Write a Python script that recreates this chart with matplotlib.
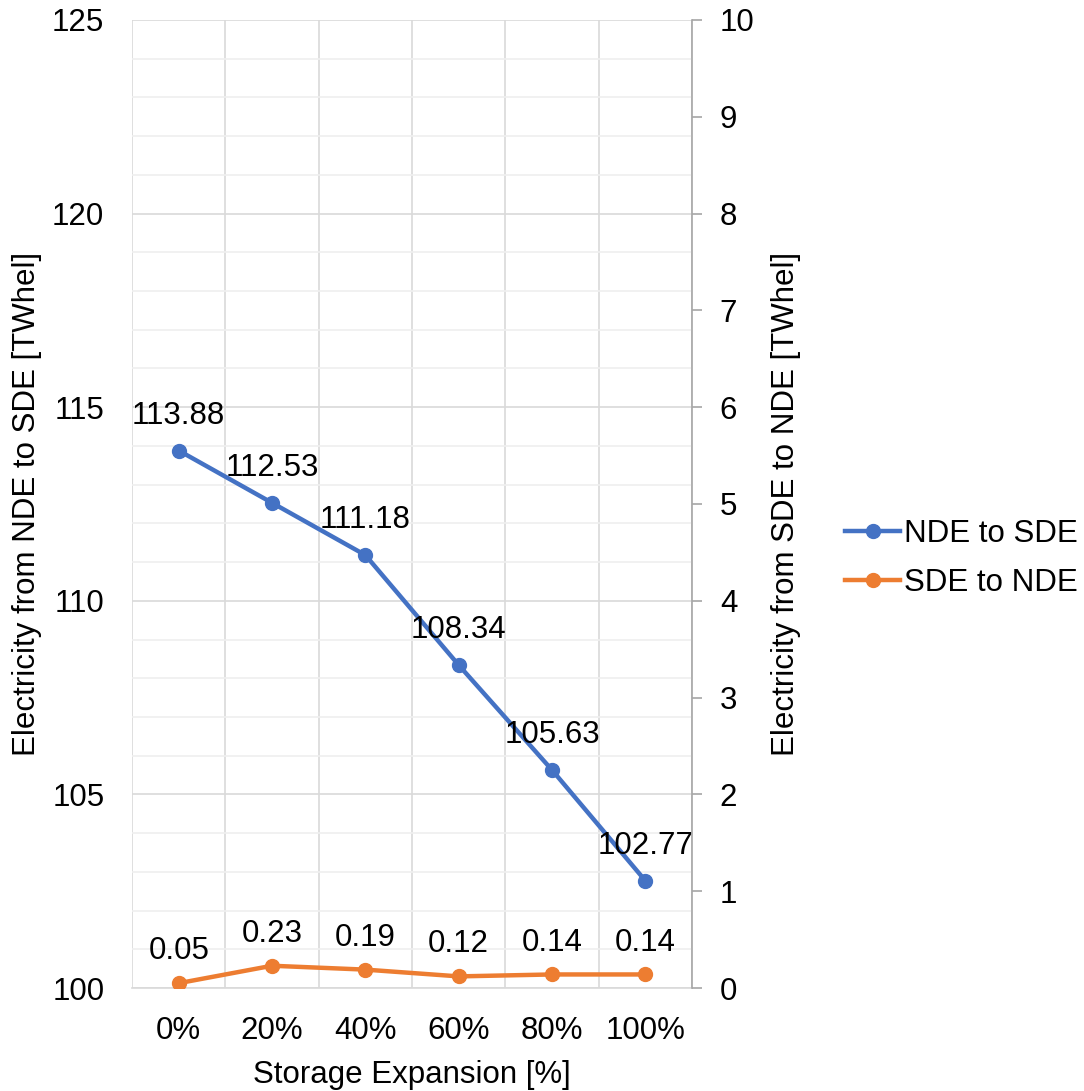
import matplotlib
matplotlib.use("Agg")
import matplotlib.pyplot as plt
from matplotlib.ticker import MultipleLocator, FixedLocator
from matplotlib.lines import Line2D

# Storage expansion scenarios and transferred electricity (TWh_el)
categories = ["0%", "20%", "40%", "60%", "80%", "100%"]
nde_to_sde = [113.88, 112.53, 111.18, 108.34, 105.63, 102.77]
sde_to_nde = [0.05, 0.23, 0.19, 0.12, 0.14, 0.14]

BLUE = "#4472C4"
ORANGE = "#ED7D31"
FS = 22.5

plt.rcParams["font.family"] = ["Liberation Sans", "DejaVu Sans"]

fig = plt.figure(figsize=(10.84, 10.91), dpi=100)
ax = fig.add_axes([0.1218, 0.0944, 0.5166, 0.8873])
ax2 = ax.twinx()

x = list(range(len(categories)))

ax.plot(x, nde_to_sde, color=BLUE, lw=3.2, marker="o", ms=10, zorder=3,
        solid_capstyle="round")
ax2.plot(x, sde_to_nde, color=ORANGE, lw=3.2, marker="o", ms=10, zorder=3,
         solid_capstyle="round")

for xi, v in zip(x, nde_to_sde):
    ax.annotate(f"{v:.2f}", (xi, v), xytext=(0, 25), textcoords="offset points",
                ha="center", va="center", fontsize=FS, zorder=4)
for xi, v in zip(x, sde_to_nde):
    ax2.annotate(f"{v:.2f}", (xi, v), xytext=(0, 23), textcoords="offset points",
                 ha="center", va="center", fontsize=FS, zorder=4)

# Left axis
ax.set_xlim(-0.5, len(categories) - 0.5)
ax.set_ylim(100, 125)
ax.yaxis.set_major_locator(MultipleLocator(5))
ax.yaxis.set_minor_locator(MultipleLocator(1))
ax.set_xticks(x)
ax.set_xticklabels(categories)
ax.xaxis.set_minor_locator(FixedLocator([i - 0.5 for i in range(len(categories) + 1)]))
ax.tick_params(axis="both", which="both", length=0, labelsize=FS)
ax.tick_params(axis="x", pad=20)
ax.tick_params(axis="y", pad=20)
ax.grid(True, axis="y", which="major", color="#D9D9D9", lw=1.2, zorder=0)
ax.grid(True, axis="y", which="minor", color="#EFEFEF", lw=1.2, zorder=0)
ax.grid(True, axis="x", which="minor", color="#D9D9D9", lw=1.2, zorder=0)
ax.set_axisbelow(True)
for s in ["top", "right", "left"]:
    ax.spines[s].set_visible(False)
ax.spines["bottom"].set_color("#D9D9D9")
ax.spines["bottom"].set_linewidth(1.2)

ax.set_xlabel("Storage Expansion [%]", fontsize=FS, labelpad=10)
ax.set_ylabel("Electricity from NDE to SDE [TWhel]", fontsize=FS, labelpad=7)

# Right axis
ax2.set_ylim(0, 10)
ax2.yaxis.set_major_locator(MultipleLocator(1))
ax2.tick_params(axis="y", length=7, width=1.2, color="#A6A6A6", labelsize=FS, pad=13)
for s in ["top", "left", "bottom"]:
    ax2.spines[s].set_visible(False)
ax2.spines["right"].set_color("#A6A6A6")
ax2.spines["right"].set_linewidth(1.2)
ax2.set_ylabel("Electricity from SDE to NDE [TWhel]", fontsize=FS, labelpad=12)

handles = [
    Line2D([], [], color=BLUE, lw=3.2, marker="o", ms=10),
    Line2D([], [], color=ORANGE, lw=3.2, marker="o", ms=10),
]
fig.legend(handles, ["NDE to SDE", "SDE to NDE"], loc="center left",
           bbox_to_anchor=(0.754, 0.488), frameon=False, fontsize=FS,
           handlelength=1.75, handletextpad=0.12, labelspacing=0.62)

fig.savefig("out.png", dpi=100)
